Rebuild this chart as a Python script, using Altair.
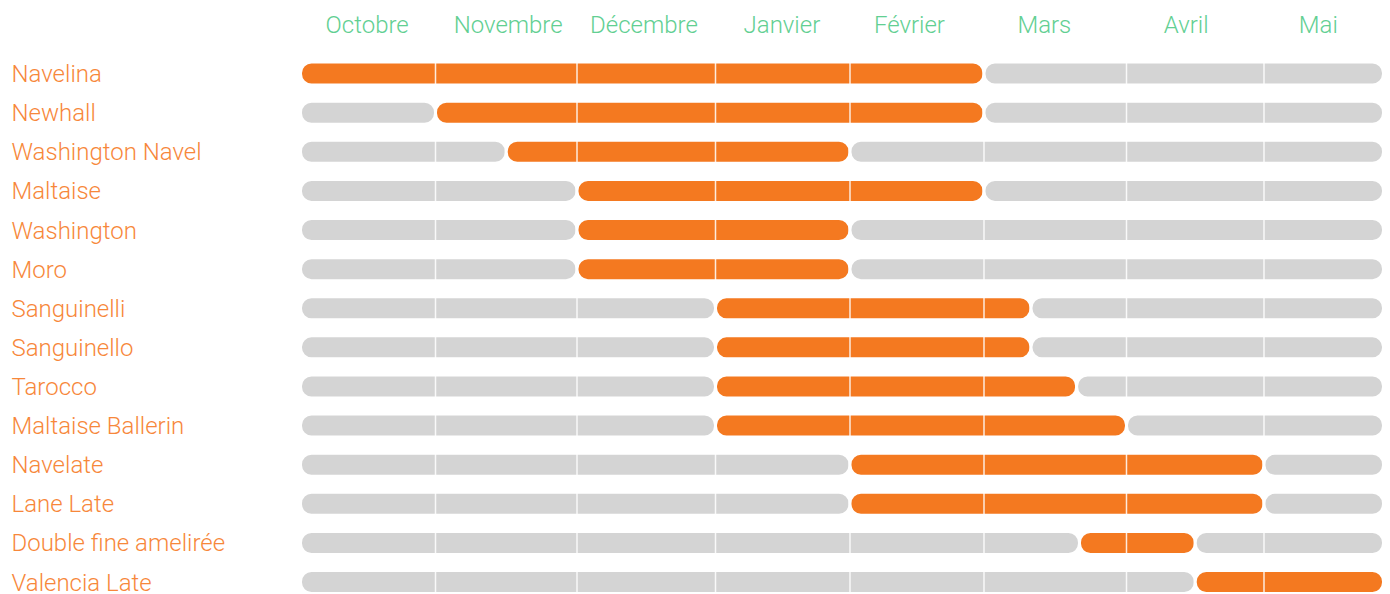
import altair as alt
import pandas as pd

# --- data -----------------------------------------------------------------
months = ["Octobre", "Novembre", "Décembre", "Janvier", "Février", "Mars", "Avril", "Mai"]
# where each month name sits along the month axis (tick placement)
month_label_pos = [0.49, 1.51, 2.48, 3.49, 4.44, 5.42, 6.43, 7.45]

varieties = [
    "Navelina", "Newhall", "Washington Navel", "Maltaise", "Washington", "Moro",
    "Sanguinelli", "Sanguinello", "Tarocco", "Maltaise Ballerin", "Navelate",
    "Lane Late", "Double fine amelirée", "Valencia Late",
]
# season start / end, in months counted from 1 October (0 = début octobre, 8 = fin mai)
season_start = [0.0, 1.0, 1.5, 2.0, 2.0, 2.0, 3.0, 3.0, 3.0, 3.0, 4.0, 4.0, 5.67, 6.5]
season_end = [5.0, 5.0, 4.0, 5.0, 4.0, 4.0, 5.33, 5.33, 5.65, 6.0, 7.0, 7.0, 6.5, 8.0]

# column layout of the month grid (pixel widths of the plot area, style only)
month_edges_px = [-1.5, 133.5, 275, 413.5, 548, 682, 824.5, 962, 1081.5]

ORANGE = "#f47920"
GREY = "#d4d4d4"
GREEN = "#62cf92"
LABEL_ORANGE = "#f7873a"
FONT = "Roboto"

n_months = len(months)
rows = []
for v, s, e in zip(varieties, season_start, season_end):
    if s > 0:
        rows.append({"variety": v, "start": 0, "end": s, "kind": "off"})
    rows.append({"variety": v, "start": s, "end": e, "kind": "on"})
    if e < n_months:
        rows.append({"variety": v, "start": e, "end": n_months, "kind": "off"})
df = pd.DataFrame(rows)
bounds = pd.DataFrame({"b": list(range(1, n_months))})

xscale = alt.Scale(domain=list(range(n_months + 1)), range=month_edges_px, nice=False, zero=False)
label_expr = "[" + ",".join("'" + m + "'" for m in months) + "][floor(datum.value)]"

bars = alt.Chart(df).mark_bar(
    size=23, cornerRadius=11, stroke="white", strokeWidth=3
).encode(
    x=alt.X(
        "start:Q", scale=xscale,
        axis=alt.Axis(
            orient="top", values=month_label_pos, labelExpr=label_expr,
            grid=False, domain=False, ticks=False, tickSize=0, title=None,
            labelFont=FONT, labelFontWeight=300, labelFontSize=24, labelColor=GREEN,
            labelPadding=21.5, labelBaseline="alphabetic", labelOverlap=False,
            labelFlush=False, labelBound=False,
        ),
    ),
    x2="end:Q",
    y=alt.Y(
        "variety:N", sort=varieties,
        scale=alt.Scale(paddingInner=0, paddingOuter=0),
        axis=alt.Axis(
            title=None, domain=False, ticks=False, tickSize=0, grid=False,
            labelAlign="left", labelPadding=291, labelLimit=0, labelOffset=1.5,
            labelFont=FONT, labelFontWeight=300, labelFontSize=24, labelColor=LABEL_ORANGE,
        ),
    ),
    color=alt.Color("kind:N", scale=alt.Scale(domain=["off", "on"], range=[GREY, ORANGE]), legend=None),
)

rules = alt.Chart(bounds).mark_rule(color="white", strokeWidth=1.5, opacity=0.85).encode(
    x=alt.X("b:Q", scale=xscale)
)

chart = alt.layer(bars, rules).properties(
    width=1080, height=547.6,
    autosize=alt.AutoSizeParams(type="none"),
    padding={"left": 294, "top": 46, "right": 0, "bottom": 0},
    background="white",
).configure_view(stroke=None)

chart.save("out.html", embed_options={"renderer": "svg", "actions": False})
